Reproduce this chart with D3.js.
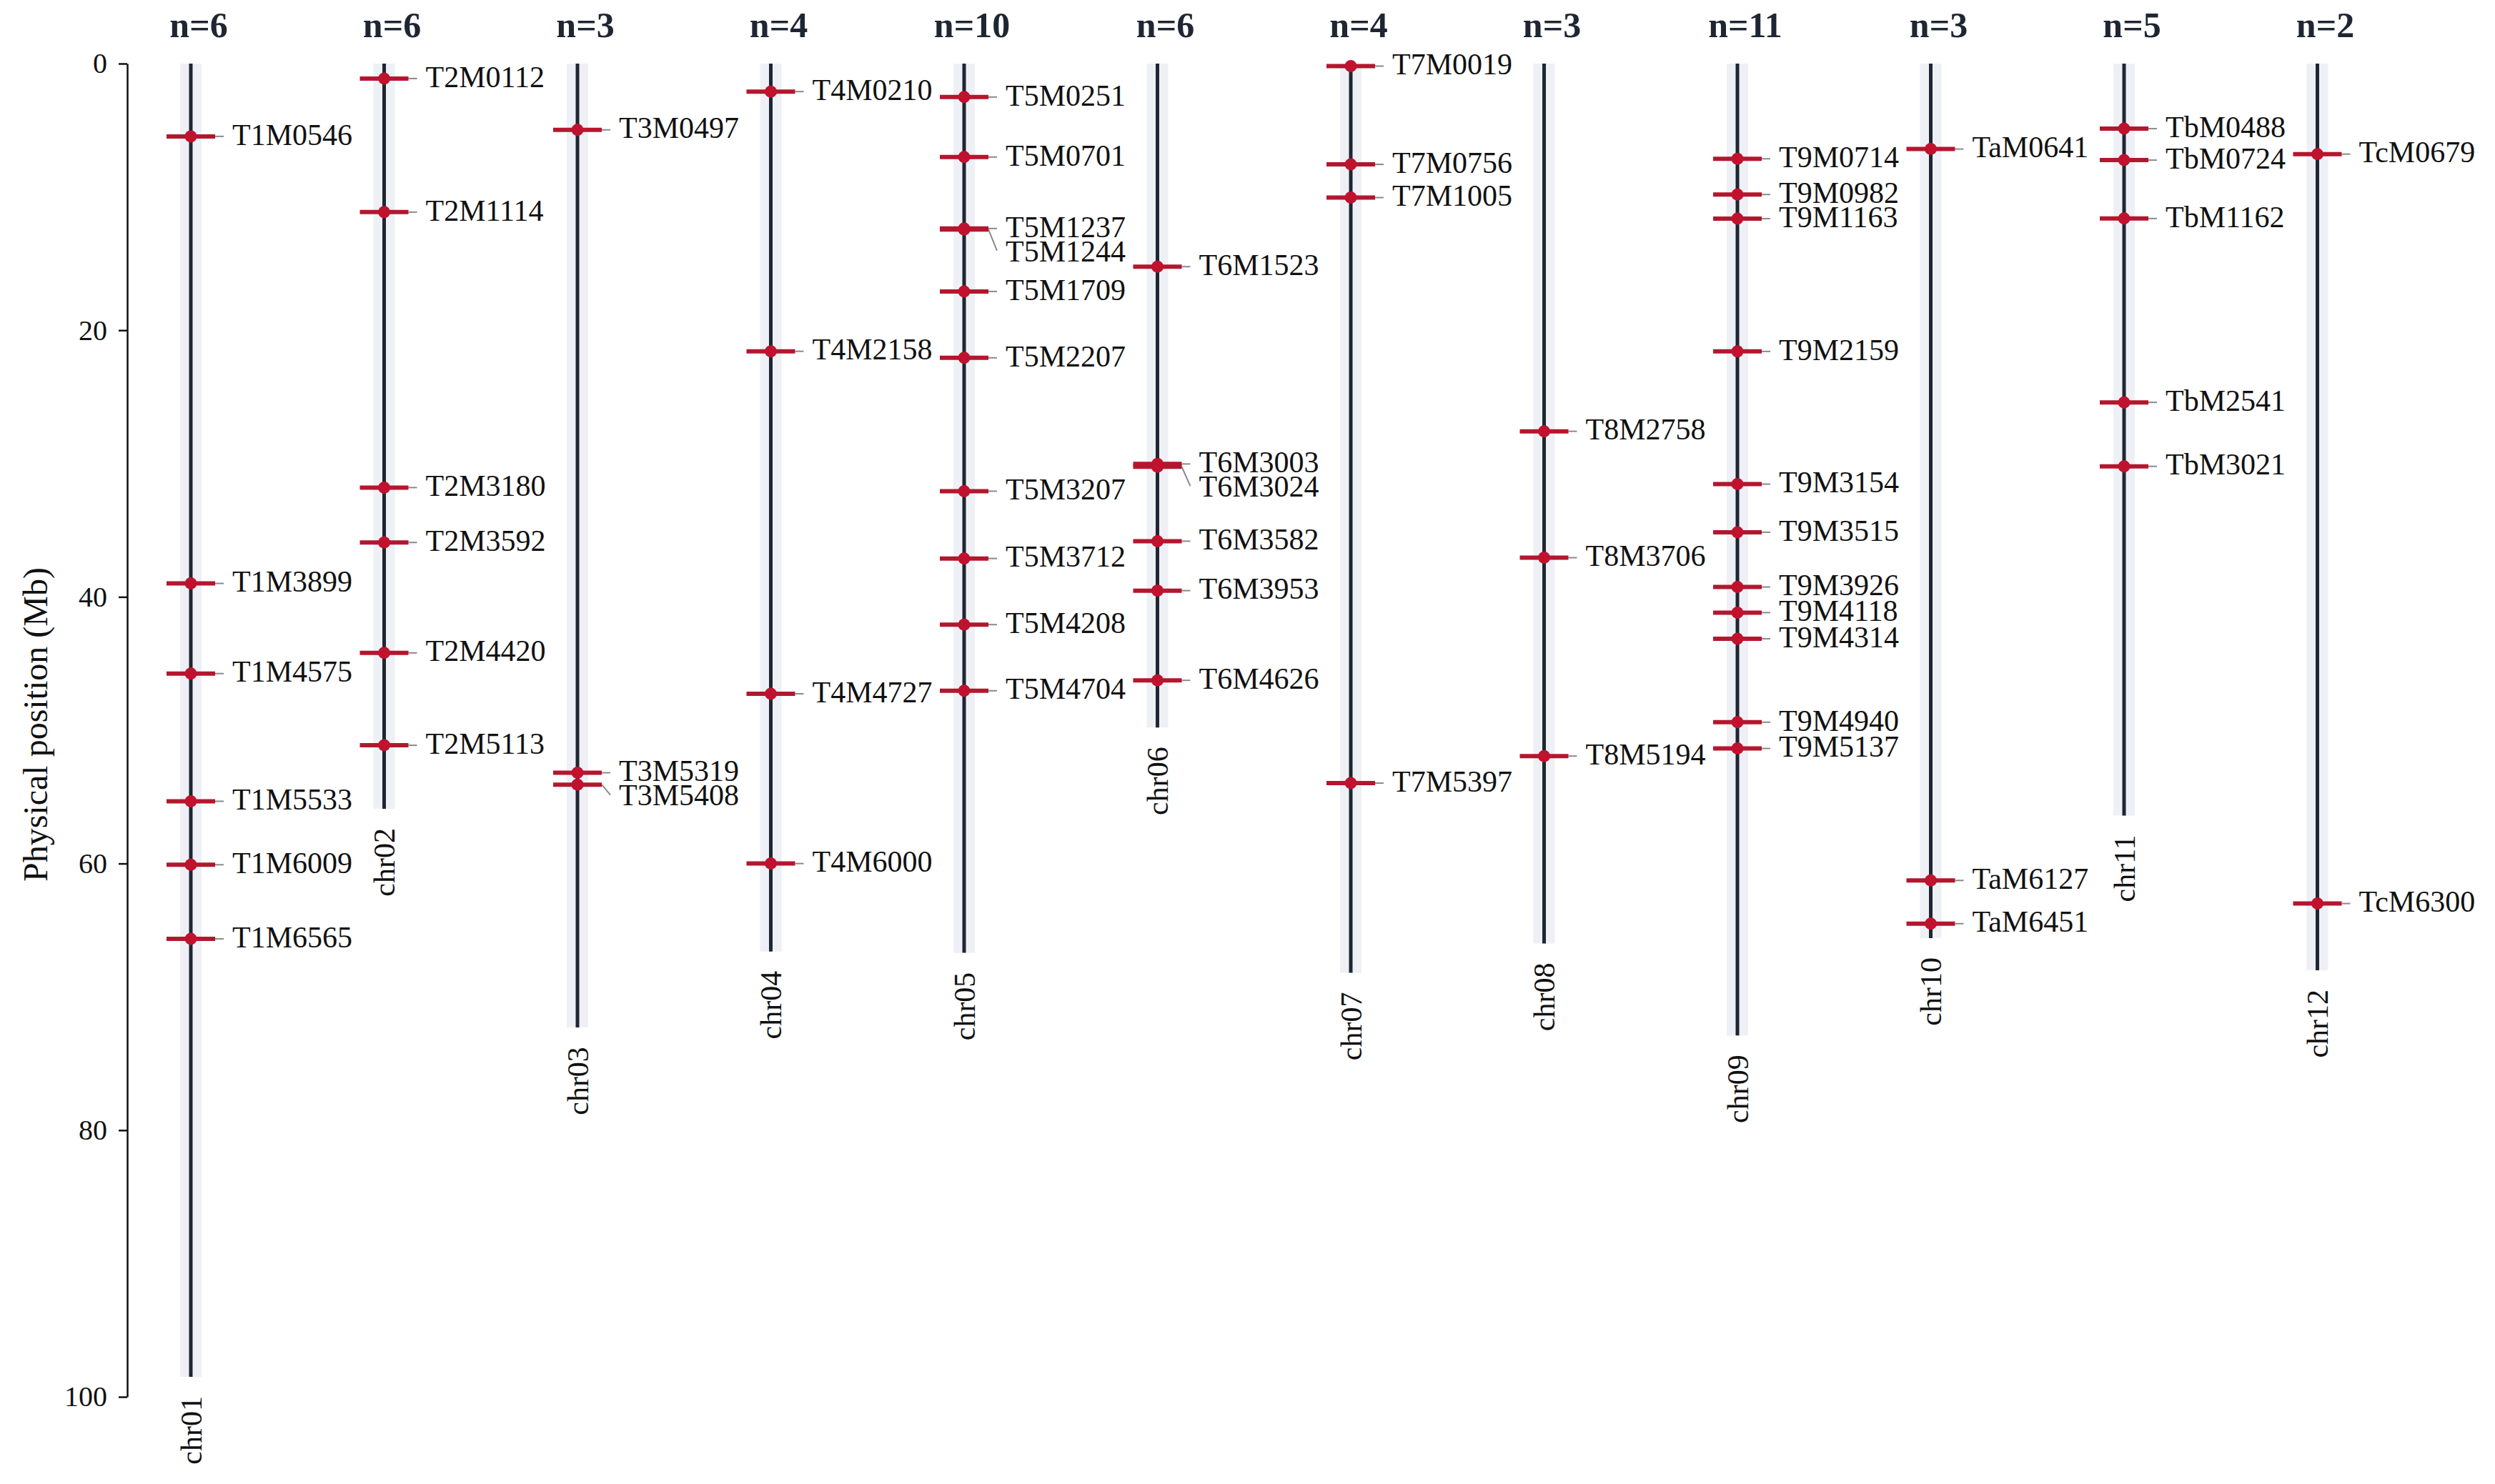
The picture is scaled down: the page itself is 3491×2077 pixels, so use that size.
<!DOCTYPE html>
<html>
<head>
<meta charset="utf-8">
<script src="https://cdn.jsdelivr.net/npm/d3@7"></script>
<style>
  html, body { margin: 0; padding: 0; background: #ffffff; }
  svg { display: block; }
</style>
</head>
<body>
<div id="chart"></div>
<script>
// ---------------- data ----------------
const chromosomes = ["chr01","chr02","chr03","chr04","chr05","chr06","chr07","chr08","chr09","chr10","chr11","chr12"];
const chromLengths = [98.5, 55.9, 72.3, 66.6, 66.7, 49.8, 68.2, 66.0, 72.9, 65.6, 56.4, 68.0];

const markerNames = [
  ["T1M0546","T1M3899","T1M4575","T1M5533","T1M6009","T1M6565"],
  ["T2M0112","T2M1114","T2M3180","T2M3592","T2M4420","T2M5113"],
  ["T3M0497","T3M5319","T3M5408"],
  ["T4M0210","T4M2158","T4M4727","T4M6000"],
  ["T5M0251","T5M0701","T5M1237","T5M1244","T5M1709","T5M2207","T5M3207","T5M3712","T5M4208","T5M4704"],
  ["T6M1523","T6M3003","T6M3024","T6M3582","T6M3953","T6M4626"],
  ["T7M0019","T7M0756","T7M1005","T7M5397"],
  ["T8M2758","T8M3706","T8M5194"],
  ["T9M0714","T9M0982","T9M1163","T9M2159","T9M3154","T9M3515","T9M3926","T9M4118","T9M4314","T9M4940","T9M5137"],
  ["TaM0641","TaM6127","TaM6451"],
  ["TbM0488","TbM0724","TbM1162","TbM2541","TbM3021"],
  ["TcM0679","TcM6300"]
];
const markerPositions = [
  [5.46, 38.99, 45.75, 55.33, 60.09, 65.65],
  [1.12, 11.14, 31.80, 35.92, 44.20, 51.13],
  [4.97, 53.19, 54.08],
  [2.10, 21.58, 47.27, 60.00],
  [2.51, 7.01, 12.37, 12.44, 17.09, 22.07, 32.07, 37.12, 42.08, 47.04],
  [15.23, 30.03, 30.24, 35.82, 39.53, 46.26],
  [0.19, 7.56, 10.05, 53.97],
  [27.58, 37.06, 51.94],
  [7.14, 9.82, 11.63, 21.59, 31.54, 35.15, 39.26, 41.18, 43.14, 49.40, 51.37],
  [6.41, 61.27, 64.51],
  [4.88, 7.24, 11.62, 25.41, 30.21],
  [6.79, 63.00]
];
const yTicks = [0, 20, 40, 60, 80, 100];
const yTitle = "Physical position (Mb)";

// ---------------- layout ----------------
const W = 3491, H = 2077;
const svg = d3.select("#chart").append("svg")
  .attr("width", W).attr("height", H)
  .attr("viewBox", `0 0 ${W} ${H}`)
  .style("background", "#ffffff");

const serif = "'Liberation Serif', 'Times New Roman', Times, serif";
const darkLine = "#1f2633";
const bandFill = "#eef0f5";
const red = "#b3172e";
const dotRed = "#c0122e";

const y = d3.scaleLinear().domain([0, 100]).range([89, 1955]);
const x = d3.scalePoint().domain(chromosomes).range([267, 3242.5]);

// y axis
const axisX = 178;
const axisG = svg.append("g")
  .attr("transform", `translate(${axisX},0)`)
  .call(d3.axisLeft(y).tickValues(yTicks).tickSize(12).tickSizeOuter(0).tickPadding(16));
axisG.select(".domain").attr("stroke", "#111").attr("stroke-width", 2.5);
axisG.selectAll(".tick line").attr("stroke", "#111").attr("stroke-width", 2.5);
axisG.selectAll(".tick text")
  .attr("font-family", serif).attr("font-size", 40).attr("fill", "#111");

svg.append("text")
  .attr("transform", `translate(49,${(y(0) + y(100)) / 2 - 8}) rotate(-90)`)
  .attr("text-anchor", "middle").attr("dy", "0.35em")
  .attr("font-family", serif).attr("font-size", 48).attr("fill", "#111")
  .text(yTitle);

// chromosome table
const chromData = chromosomes.map((c, i) => ({
  name: c,
  length: chromLengths[i],
  markers: markerNames[i].map((m, j) => ({ name: m, pos: markerPositions[i][j] }))
}));

const bandW = 30, lineW = 5;
const barHalf = 34, grayEnd = 46, labelX = 58, minGap = 34;

const g = svg.selectAll("g.chrom").data(chromData).enter().append("g")
  .attr("class", "chrom")
  .attr("transform", d => `translate(${x(d.name)},0)`);

// background band
g.append("rect")
  .attr("x", -bandW / 2).attr("width", bandW)
  .attr("y", y(0)).attr("height", d => y(d.length) - y(0))
  .attr("fill", bandFill);

// chromosome line
g.append("line")
  .attr("x1", 0).attr("x2", 0)
  .attr("y1", y(0)).attr("y2", d => y(d.length))
  .attr("stroke", darkLine).attr("stroke-width", lineW);

// n= label
g.append("text")
  .attr("x", 11).attr("y", 52)
  .attr("text-anchor", "middle")
  .attr("font-family", serif).attr("font-weight", "bold").attr("font-size", 50)
  .attr("fill", darkLine)
  .text(d => `n=${d.markers.length}`);

// chromosome name below
g.append("text")
  .attr("transform", d => `translate(0,${y(d.length) + 27}) rotate(-90)`)
  .attr("text-anchor", "end").attr("dy", "0.35em")
  .attr("font-family", serif).attr("font-size", 42).attr("fill", "#111")
  .text(d => d.name);

// markers with repelled labels
g.each(function(d) {
  const sel = d3.select(this);
  const ms = d.markers.slice().sort((a, b) => a.pos - b.pos);
  let prev = -Infinity;
  ms.forEach(m => {
    m.y = y(m.pos);
    m.ly = Math.max(m.y - 3, prev + minGap);
    prev = m.ly;
  });

  const mg = sel.selectAll("g.marker").data(ms).enter().append("g").attr("class", "marker");
  mg.append("line")
    .attr("x1", barHalf).attr("x2", grayEnd)
    .attr("y1", m => m.y).attr("y2", m => Math.max(m.y, m.ly))
    .attr("stroke", "#8a8a8a").attr("stroke-width", 2);
  mg.append("line")
    .attr("x1", -barHalf).attr("x2", barHalf)
    .attr("y1", m => m.y).attr("y2", m => m.y)
    .attr("stroke", red).attr("stroke-width", 6);
  mg.append("circle")
    .attr("cx", 0).attr("cy", m => m.y).attr("r", 8.5)
    .attr("fill", dotRed);
  mg.append("text")
    .attr("x", labelX).attr("y", m => m.ly).attr("dy", "0.35em")
    .attr("font-family", serif).attr("font-size", 42).attr("fill", "#111")
    .text(m => m.name);
});
</script>
</body>
</html>
